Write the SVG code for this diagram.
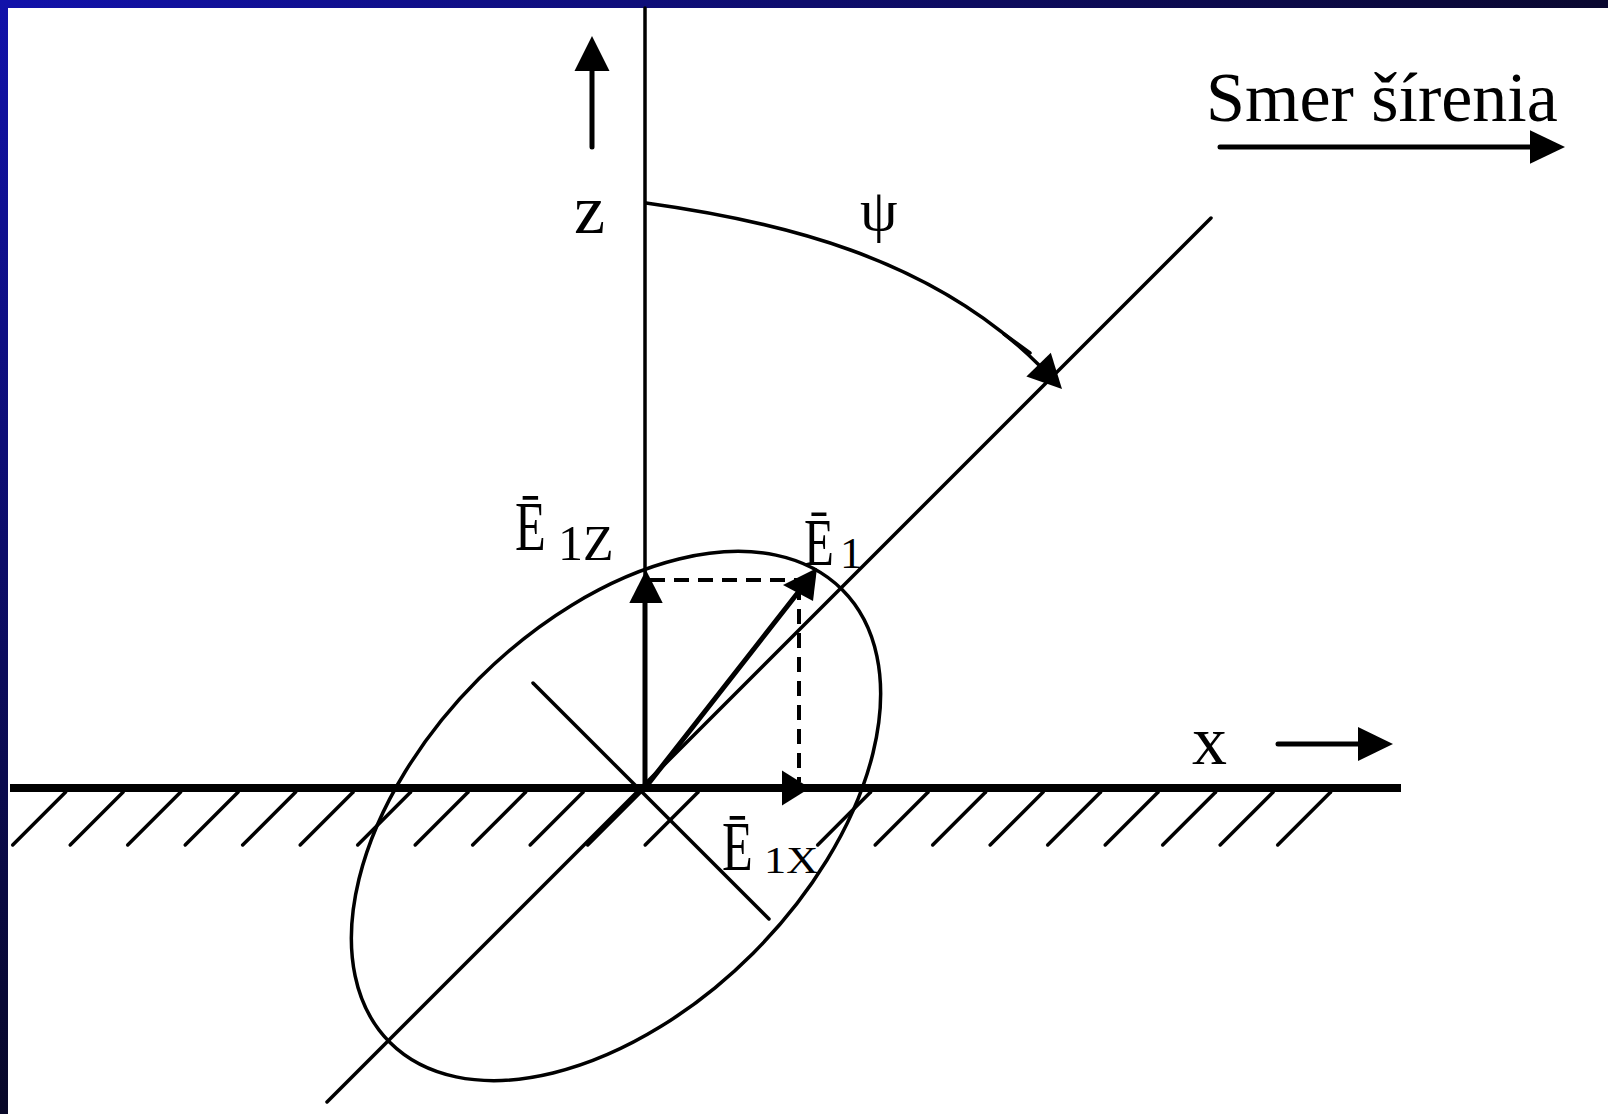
<svg xmlns="http://www.w3.org/2000/svg" width="1608" height="1114" viewBox="0 0 1608 1114">
  <defs>
    <linearGradient id="gTop" x1="0" y1="0" x2="1" y2="0">
      <stop offset="0" stop-color="#1212aa"/>
      <stop offset="1" stop-color="#0a0830"/>
    </linearGradient>
    <linearGradient id="gLeft" x1="0" y1="0" x2="0" y2="1">
      <stop offset="0" stop-color="#1212aa"/>
      <stop offset="1" stop-color="#080828"/>
    </linearGradient>
    <style>
      .ln { stroke: #000; stroke-width: 3.5; fill: none; stroke-linecap: round; }
      .thick { stroke: #000; stroke-width: 5; fill: none; stroke-linecap: round; }
      .dash { stroke: #000; stroke-width: 4; fill: none; stroke-dasharray: 15 9; }
      .hd { fill: #000; stroke: none; }
      .t { font-family: "Liberation Serif", "Times New Roman", serif; fill: #000; }
    </style>
  </defs>

  <rect x="0" y="0" width="1608" height="1114" fill="#ffffff"/>
  <rect x="0" y="0" width="1608" height="8" fill="url(#gTop)"/>
  <rect x="0" y="0" width="8" height="1114" fill="url(#gLeft)"/>

  <g id="ground">
    <line x1="10" y1="788" x2="1401" y2="788" stroke="#000" stroke-width="8"/>
    <g class="ln">
      <line x1="12.7" y1="845" x2="65.7" y2="792"/>
      <line x1="70.2" y1="845" x2="123.2" y2="792"/>
      <line x1="127.7" y1="845" x2="180.7" y2="792"/>
      <line x1="185.2" y1="845" x2="238.2" y2="792"/>
      <line x1="242.7" y1="845" x2="295.7" y2="792"/>
      <line x1="300.2" y1="845" x2="353.2" y2="792"/>
      <line x1="357.7" y1="845" x2="410.7" y2="792"/>
      <line x1="415.2" y1="845" x2="468.2" y2="792"/>
      <line x1="472.7" y1="845" x2="525.7" y2="792"/>
      <line x1="530.2" y1="845" x2="583.2" y2="792"/>
      <line x1="587.7" y1="845" x2="640.7" y2="792"/>
      <line x1="645.2" y1="845" x2="698.2" y2="792"/>
      <line x1="817.7" y1="845" x2="870.7" y2="792"/>
      <line x1="875.2" y1="845" x2="928.2" y2="792"/>
      <line x1="932.7" y1="845" x2="985.7" y2="792"/>
      <line x1="990.2" y1="845" x2="1043.2" y2="792"/>
      <line x1="1047.7" y1="845" x2="1100.7" y2="792"/>
      <line x1="1105.2" y1="845" x2="1158.2" y2="792"/>
      <line x1="1162.7" y1="845" x2="1215.7" y2="792"/>
      <line x1="1220.2" y1="845" x2="1273.2" y2="792"/>
      <line x1="1277.7" y1="845" x2="1330.7" y2="792"/>
    </g>
  </g>

  <g id="axes">
    <line class="ln" x1="645" y1="8" x2="645" y2="788" stroke-linecap="butt"/>
    <line class="ln" x1="327" y1="1102" x2="1211" y2="218"/>
    <line class="ln" x1="533" y1="683" x2="769" y2="919"/>
  </g>

  <g id="ellipse">
    <ellipse cx="616" cy="816" rx="320" ry="194" transform="rotate(-45 616 816)" class="ln"/>
  </g>

  <g id="connectors">
    <!-- z direction arrow -->
    <line class="thick" x1="592" y1="147" x2="592" y2="68"/>
    <polygon class="hd" points="592,36 609.5,71 574.5,71"/>
    <!-- x direction arrow -->
    <line class="thick" x1="1278" y1="744" x2="1360" y2="744"/>
    <polygon class="hd" points="1393,744 1358,727 1358,761"/>
    <!-- propagation arrow -->
    <line class="thick" x1="1220" y1="147" x2="1532" y2="147"/>
    <polygon class="hd" points="1565,147 1530,130.3 1530,163.7"/>
    <!-- psi arc -->
    <path class="ln" d="M646,203 C776,221 930,256 1040,366"/>
    <line class="ln" x1="1004" y1="334" x2="1030" y2="353"/>
    <polygon class="hd" points="1062,389 1026.4,376.4 1050.8,352.8"/>
    <!-- dashed projections -->
    <line class="dash" x1="650" y1="580" x2="800" y2="580"/>
    <line class="dash" x1="799" y1="585" x2="799" y2="782"/>
    <!-- E1z vector -->
    <line class="thick" x1="645" y1="788" x2="645" y2="600"/>
    <polygon class="hd" points="646,570 662.7,603 629.3,603"/>
    <!-- E1 vector -->
    <line class="thick" x1="645" y1="788" x2="800" y2="590"/>
    <polygon class="hd" points="817,568 813,601 783,585"/>
    <!-- E1x vector -->
    <polygon class="hd" points="810,788 782,770.5 782,805.5"/>
  </g>

  <g id="labels">
    <text class="t" x="1206" y="121" font-size="70">Smer šírenia</text>
    <text class="t" x="574" y="233" font-size="70">z</text>
    <text class="t" x="1192" y="764" font-size="70">x</text>
    <text class="t" x="860" y="230" font-size="60">ψ</text>
    <text class="t" font-size="70" transform="translate(515,550) scale(0.72,1)">Ē</text>
    <text class="t" x="558" y="560" font-size="50">1Z</text>
    <text class="t" font-size="68" transform="translate(804,565) scale(0.72,1)">Ē</text>
    <text class="t" x="840" y="568" font-size="45">1</text>
    <text class="t" font-size="70" transform="translate(722,870) scale(0.72,1)">Ē</text>
    <text class="t" font-size="37" transform="translate(764,873) scale(1.2,1)">1X</text>
  </g>
</svg>
